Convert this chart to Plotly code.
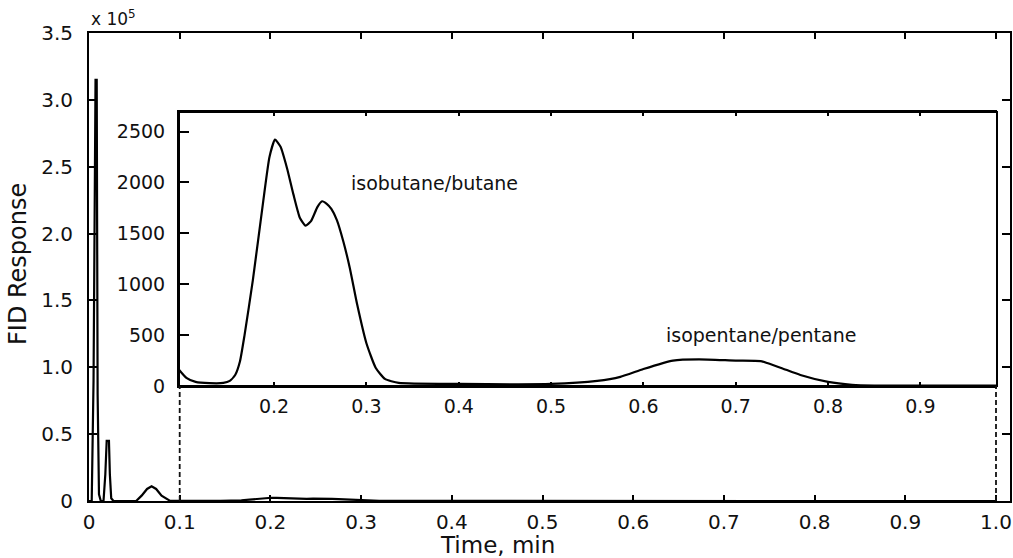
import plotly.graph_objects as go

# ---- data (raw FID response vs time, min) ----
time_min = [0.0, 0.003, 0.005, 0.0072, 0.0085, 0.0095, 0.011, 0.013,
            0.016, 0.018, 0.0195, 0.0205, 0.022, 0.023, 0.0245, 0.027,
            0.052, 0.058, 0.064, 0.069, 0.074, 0.080, 0.089, 0.094,
            0.097, 0.105, 0.115, 0.13, 0.145, 0.152, 0.158, 0.163, 0.168,
            0.177, 0.188, 0.195, 0.201, 0.207, 0.214, 0.221, 0.228, 0.234,
            0.24, 0.247, 0.252, 0.257, 0.262, 0.268, 0.275, 0.282, 0.29,
            0.30, 0.31, 0.32, 0.335, 0.40, 0.50, 0.55, 0.575, 0.60, 0.632,
            0.66, 0.70, 0.727, 0.734, 0.75, 0.77, 0.80, 0.826, 0.85, 0.983, 1.0]
response = [0, 0, 90000, 315000, 315000, 80000, 5000, 0,
            0, 20000, 45000, 45000, 45000, 20000, 2000, 0,
            0, 4000, 9000, 11000, 9000, 4000, 300, 200,
            160, 80, 40, 28, 30, 50, 110, 240, 500,
            1040, 1800, 2250, 2420, 2350, 2140, 1880, 1650, 1575,
            1620, 1760, 1815, 1790, 1740, 1630, 1420, 1160, 800,
            420, 180, 70, 30, 20, 20, 50, 90, 167, 250,
            262, 250, 245, 226, 175, 108, 40, 12, 5, 5, 5]

main_xticks = [0, 0.1, 0.2, 0.3, 0.4, 0.5, 0.6, 0.7, 0.8, 0.9, 1.0]
main_xlabels = ["0", "0.1", "0.2", "0.3", "0.4", "0.5", "0.6", "0.7", "0.8", "0.9", "1.0"]
main_yticks = [0, 0.5, 1.0, 1.5, 2.0, 2.5, 3.0, 3.5]
main_ylabels = ["0", "0.5", "1.0", "1.5", "2.0", "2.5", "3.0", "3.5"]
inset_xticks = [0.2, 0.3, 0.4, 0.5, 0.6, 0.7, 0.8, 0.9]
inset_yticks = [0, 500, 1000, 1500, 2000, 2500]
scale = 1e5

inset_t = [t for t in time_min if 0.097 <= t <= 0.983]
inset_r = [r for t, r in zip(time_min, response) if 0.097 <= t <= 0.983]

FONT = "DejaVu Sans"
W, H = 1013, 558
L, R, T, B = 89, 3, 33, 57
pw, ph = W - L - R, H - T - B

def px_x(p):
    return (p - L) / pw

def px_y(p):
    return (H - B - p) / ph

fig = go.Figure()
fig.add_trace(go.Scatter(x=time_min, y=[r / scale for r in response], mode="lines",
                         line=dict(color="black", width=2.2), xaxis="x", yaxis="y",
                         showlegend=False, hoverinfo="skip"))
fig.add_trace(go.Scatter(x=inset_t, y=inset_r, mode="lines",
                         line=dict(color="black", width=2.2, shape="spline", smoothing=0.5),
                         xaxis="x2", yaxis="y2", showlegend=False, hoverinfo="skip"))

inset_dom_x = [px_x(179), px_x(997)]
inset_dom_y = [px_y(386), px_y(112)]

axis_common = dict(showgrid=False, zeroline=False, showline=True, linecolor="black",
                   linewidth=2, ticks="inside", tickcolor="black", tickwidth=1.5,
                   automargin=False, ticklabeloverflow="allow")

fig.update_layout(
    width=W, height=H,
    margin=dict(l=L, r=R, t=T, b=B, autoexpand=False),
    paper_bgcolor="white", plot_bgcolor="white",
    font=dict(family=FONT, color="#111"),
    xaxis=dict(domain=[0, 1], range=[0, pw / 907.0], tickvals=main_xticks,
               ticktext=main_xlabels, ticklen=6, mirror="ticks",
               tickfont=dict(size=20, family=FONT), ticklabelstandoff=2, **axis_common),
    yaxis=dict(domain=[0, 1], range=[0, 3.5], tickvals=main_yticks, ticktext=main_ylabels,
               ticklen=8, mirror="ticks", tickfont=dict(size=20, family=FONT),
               ticklabelstandoff=10, **axis_common),
    xaxis2=dict(domain=inset_dom_x, anchor="y2", range=[0.097, 0.983], tickvals=inset_xticks,
                ticktext=[f"{v:.1f}" for v in inset_xticks], ticklen=4, mirror="ticks",
                tickfont=dict(size=19, family=FONT), ticklabelstandoff=2, **axis_common),
    yaxis2=dict(domain=inset_dom_y, anchor="x2", range=[0, 2692], tickvals=inset_yticks,
                ticktext=[str(v) for v in inset_yticks], ticklen=10,
                tickfont=dict(size=19, family=FONT), ticklabelstandoff=8, **axis_common),
)

shapes = [
    dict(type="rect", xref="x2 domain", yref="y2 domain", x0=0, x1=1, y0=0, y1=1,
         line=dict(color="black", width=2), layer="above"),
    dict(type="line", xref="x", yref="paper", x0=0.1, x1=0.1, y0=0, y1=inset_dom_y[0],
         line=dict(color="#111", width=1.8, dash="5px,3px")),
    dict(type="line", xref="x", yref="paper", x0=1.0, x1=1.0, y0=0, y1=inset_dom_y[0],
         line=dict(color="#111", width=1.8, dash="5px,3px")),
]
fig.update_layout(shapes=shapes)

annotations = [
    dict(text="x 10<sup>5</sup>", xref="paper", yref="paper", x=px_x(89), y=px_y(18),
         xanchor="left", yanchor="middle", showarrow=False, font=dict(size=17, family=FONT)),
    dict(text="FID Response", xref="paper", yref="paper", x=px_x(18), y=px_y(264),
         xanchor="center", yanchor="middle", textangle=-90, showarrow=False,
         font=dict(size=24, family=FONT)),
    dict(text="Time, min", xref="paper", yref="paper", x=px_x(497), y=px_y(545),
         xanchor="center", yanchor="middle", showarrow=False, font=dict(size=23, family=FONT)),
    dict(text="isobutane/butane", xref="x2", yref="y2", x=0.374, y=1994,
         xanchor="center", yanchor="middle", showarrow=False, font=dict(size=19, family=FONT)),
    dict(text="isopentane/pentane", xref="x2", yref="y2", x=0.727, y=500,
         xanchor="center", yanchor="middle", showarrow=False, font=dict(size=19, family=FONT)),
]
fig.update_layout(annotations=annotations)

fig.write_html("out.html", config={"displayModeBar": False},
               post_script="document.body.style.margin='0';document.body.style.overflow='hidden';")
